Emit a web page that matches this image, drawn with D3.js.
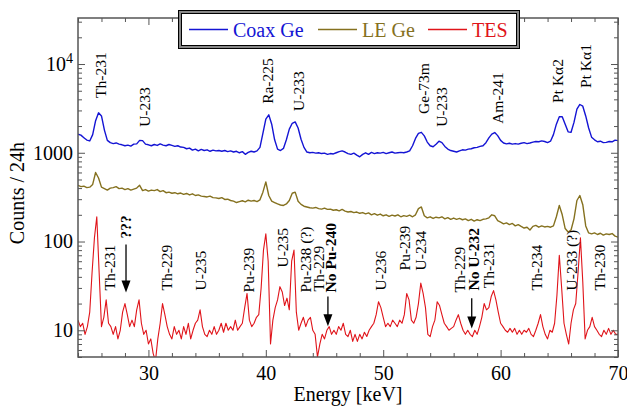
<!DOCTYPE html>
<html>
<head>
<meta charset="utf-8">
<script src="https://cdn.jsdelivr.net/npm/d3@7"></script>
<style>
body { margin: 0; background: #fff; }
svg text { font-family: "Liberation Serif", "Times New Roman", serif; }
</style>
</head>
<body>
<svg id="chart" width="627" height="406"></svg>
<script>
const width = 627;
const height = 406;
const margin = {left: 78, right: 9, top: 18, bottom: 49};

// Coax Ge spectrum, 24 keV onwards in 0.25 keV bins
const coaxStart = 24, coaxStep = 0.25;
const coaxGe = [
  1620, 1580, 1480, 1390,
  1360, 1600, 2300, 2820,
  2600, 1800, 1380, 1300,
  1270, 1290, 1250, 1230,
  1200, 1220, 1190, 1250,
  1260, 1380, 1370, 1250,
  1230, 1200, 1240, 1210,
  1260, 1220, 1200, 1240,
  1210, 1180, 1200, 1160,
  1150, 1110, 1130, 1070,
  1100, 1050, 1090, 1060,
  1080, 1040, 1070, 1050,
  1060, 1040, 1060, 1030,
  1050, 1020, 1040, 1000,
  1030, 960, 1010, 1040,
  1020, 1050, 1150, 1650,
  2400, 2680, 2100, 1400,
  1100, 1060, 1120, 1400,
  1850, 2150, 2230, 1900,
  1420, 1150, 1020, 1000,
  1010, 990, 1000, 980,
  990, 960, 980, 970,
  1000, 1030, 1050, 1020,
  980, 960, 990, 940,
  900, 960, 1000, 960,
  1010, 980, 1000, 990,
  1010, 980, 1000, 1020,
  990, 1000, 1010, 1000,
  1020, 1050, 1200, 1450,
  1650, 1700, 1550, 1320,
  1200, 1170, 1250, 1350,
  1300, 1180, 1100, 1060,
  1040, 1020, 1050, 1080,
  1070, 1100, 1110, 1140,
  1150, 1180, 1200, 1300,
  1470, 1620, 1690, 1560,
  1380, 1290, 1260, 1280,
  1250, 1270, 1250, 1280,
  1300, 1270, 1290, 1320,
  1340, 1330, 1360, 1340,
  1300, 1350, 1600, 2100,
  2550, 2550, 2100, 1720,
  1700, 2200, 3100, 3500,
  3350, 2600, 1900, 1500,
  1400, 1330, 1350, 1300,
  1310, 1340, 1330, 1390,
  1370
];

// LE Ge spectrum, 0.25 keV bins
const leStart = 24, leStep = 0.25;
const leGe = [
  430, 415, 420, 405,
  410, 440, 600, 520,
  410, 395, 380, 400,
  405, 415, 395, 400,
  385, 395, 380, 390,
  400, 430, 375, 385,
  370, 380, 375, 385,
  365, 375, 355, 360,
  350, 355, 345, 352,
  340, 348, 335, 345,
  330, 335, 325, 322,
  318, 325, 312, 310,
  305, 312, 298, 300,
  290, 285, 275, 282,
  288, 280, 292, 285,
  290, 282, 295, 360,
  470, 330, 285, 275,
  265, 258, 255, 265,
  290, 350, 360, 285,
  262, 250, 245, 240,
  238, 242, 235, 232,
  238, 230, 232, 225,
  228, 222, 230, 220,
  215, 218, 212, 215,
  208, 212, 205, 210,
  200, 206, 198, 204,
  195, 200, 192, 198,
  194, 200, 190, 196,
  192, 198, 190, 200,
  235, 245, 195, 185,
  190, 182, 188, 185,
  190, 180, 186, 178,
  184, 178, 182, 176,
  180, 172, 178, 170,
  176, 172, 178, 180,
  185, 200, 195, 172,
  165, 158, 162, 155,
  160, 150, 155, 148,
  142, 145, 135, 148,
  152, 145, 150, 146,
  148, 145, 150, 190,
  255, 200, 140, 128,
  135, 180, 290, 330,
  260, 150, 125, 122,
  125, 120, 124, 118,
  122, 120, 123, 115,
  112
];

// TES spectrum, 0.2 keV bins
const tesStart = 24, tesStep = 0.2;
const tes = [
  13, 11, 12, 9, 11,
  16, 45, 110, 190, 45,
  11, 14, 22, 12, 11,
  9, 11, 8, 10, 16,
  20, 15, 11, 13, 11,
  17, 22, 12, 9, 10,
  7, 8, 5.5, 4.5, 8,
  12, 20, 15, 11, 9,
  8, 11, 9, 10, 8,
  11, 9, 12, 8, 10,
  12, 13, 17, 11, 9,
  8.5, 10, 9, 11, 9,
  10, 12, 9.5, 12, 10,
  11, 10, 13, 10, 11,
  12, 18, 26, 13, 11,
  12, 14, 15, 30, 80,
  122, 60, 7, 13, 18,
  22, 31, 27, 19, 23,
  17, 60, 80, 16, 10,
  12, 14, 11, 13, 14,
  10, 9, 5, 7, 9,
  8, 10, 11, 9, 10,
  9, 11, 10, 12, 9,
  8.5, 10, 7.5, 9, 7.5,
  9, 8, 9.5, 8.5, 10,
  11, 12, 15, 21, 18,
  14, 11, 12, 11, 13,
  12, 11, 13, 12, 15,
  26, 22, 13, 12, 14,
  20, 34, 26, 18, 9,
  8.5, 11, 13, 21, 19,
  15, 12, 11, 10, 10.5,
  11, 13, 15, 12, 10,
  9, 10, 9, 8.5, 10,
  9, 11, 14, 20, 17,
  18, 24, 28, 22, 16,
  12, 11, 10, 9.5, 10.5,
  9.5, 10.5, 9, 10, 9,
  10, 9.5, 10.5, 9, 8.5,
  10, 12, 15, 11, 9,
  8, 10, 9.5, 12, 25,
  70, 30, 12, 9, 7,
  12, 17, 20, 45, 110,
  35, 8, 10, 11, 14,
  11, 10, 9, 8.5, 10,
  9, 10.5, 9, 10, 9,
  9
];

const seriesNames = ["Coax Ge", "LE Ge", "TES"];
const seriesColors = ["#1414d4", "#85711f", "#e0141a"];

// line identifications above the Coax Ge trace
const coaxLabels = ["Th-231", "U-233", "Ra-225", "U-233", "Ge-73m", "U-233", "Am-241", "Pt K\u03b12", "Pt K\u03b11"];
const coaxLabelKeV = [25.96, 29.66, 40.19, 42.78, 53.43, 54.97, 59.74, 64.89, 67.23];
const coaxLabelCounts = [4150, 1960, 3557, 2965, 2742, 1960, 2119, 3648, 5370];

// line identifications above the TES trace
const tesLabels = ["Th-231", "???", "Th-229", "U-235", "Pu-239", "U-235", "Pu-238 (?)", "Th-229", "No Pu-240",
  "U-236", "Pu-239", "U-234", "Th-229", "No U-232", "Th-231", "Th-234", "U-233 (?)", "Th-230"];
const tesLabelKeV = [26.68, 28.09, 31.58, 34.48, 38.57, 41.46, 43.42, 44.49, 45.55,
  49.81, 51.86, 53.22, 56.54, 57.69, 58.97, 63.10, 66.08, 68.43];
const tesLabelCounts = [28.1, 108, 28.1, 28.1, 26.7, 51, 26.7, 27.4, 26.7,
  28.1, 47.2, 47.2, 26.7, 28.1, 29.7, 28.1, 28.1, 28.1];
const boldLabels = ["???", "No Pu-240", "No U-232"];

// arrows: energy, start count, tip count
const arrowKeV = [28.09, 45.29, 57.54];
const arrowFrom = [92.5, 24.1, 22.9];
const arrowTo = [26.7, 11.1, 10.5];

const xMajor = [30, 40, 50, 60, 70];
const xMinor = d3.range(24, 71, 2).filter(d => d % 10 != 0);
const yMajor = [10, 100, 1000, 10000];

var svg = d3.select("#chart");

var x = d3.scaleLinear().domain([24, 70]).range([margin.left, width - margin.right]);
var y = d3.scaleLog().domain([5, 33000]).range([height - margin.bottom, margin.top]);

var yMinor = [];
[1, 10, 100, 1000, 10000].forEach(function (dec) {
    for (var k = 2; k <= 9; k++) {
        var v = k * dec;
        if (v >= 5 && v <= 33000) yMinor.push(v);
    }
});

svg.append("clipPath").attr("id", "plot-clip")
    .append("rect")
    .attr("x", margin.left).attr("y", margin.top)
    .attr("width", width - margin.left - margin.right)
    .attr("height", height - margin.top - margin.bottom);

var line = d3.line()
    .x(d => x(d[0]))
    .y(d => y(d[1]));

function toPoints(values, start, step) {
    return values.map((v, i) => [start + i * step, v]);
}

var traces = [
    toPoints(coaxGe, coaxStart, coaxStep),
    toPoints(leGe, leStart, leStep),
    toPoints(tes, tesStart, tesStep)
];
var traceWidths = [1.4, 1.4, 1.1];

var plot = svg.append("g").attr("clip-path", "url(#plot-clip)");
traces.forEach(function (pts, i) {
    plot.append("path")
        .datum(pts)
        .attr("fill", "none")
        .attr("stroke", seriesColors[i])
        .attr("stroke-width", traceWidths[i])
        .attr("stroke-linejoin", "round")
        .attr("d", line);
});

// axes, ticks pointing inwards on all four sides
var axisColor = "#555";
function styleAxis(g) {
    g.select(".domain").remove();
    g.selectAll(".tick line").attr("stroke", axisColor).attr("stroke-width", 1);
    g.attr("font-family", "Liberation Serif, Times New Roman, serif").attr("font-size", 20);
    g.selectAll(".tick text").attr("fill", "#000");
}

var xb = height - margin.bottom;
svg.append("g").attr("transform", "translate(0," + xb + ")")
    .call(d3.axisBottom(x).tickValues(xMajor).tickSizeInner(-7).tickSizeOuter(0).tickPadding(9).tickFormat(d3.format("d")))
    .call(styleAxis);
svg.append("g").attr("transform", "translate(0," + xb + ")")
    .call(d3.axisBottom(x).tickValues(xMinor).tickSizeInner(-4).tickSizeOuter(0).tickFormat(""))
    .call(styleAxis);
svg.append("g").attr("transform", "translate(0," + margin.top + ")")
    .call(d3.axisTop(x).tickValues(xMajor).tickSizeInner(-7).tickSizeOuter(0).tickFormat(""))
    .call(styleAxis);
svg.append("g").attr("transform", "translate(0," + margin.top + ")")
    .call(d3.axisTop(x).tickValues(xMinor).tickSizeInner(-4).tickSizeOuter(0).tickFormat(""))
    .call(styleAxis);

var left = svg.append("g").attr("transform", "translate(" + margin.left + ",0)")
    .call(d3.axisLeft(y).tickValues(yMajor).tickSizeInner(-7).tickSizeOuter(0).tickPadding(5).tickFormat(d3.format("d")))
    .call(styleAxis);
svg.append("g").attr("transform", "translate(" + margin.left + ",0)")
    .call(d3.axisLeft(y).tickValues(yMinor).tickSizeInner(-4).tickSizeOuter(0).tickFormat(""))
    .call(styleAxis);
var xr = width - margin.right;
svg.append("g").attr("transform", "translate(" + xr + ",0)")
    .call(d3.axisRight(y).tickValues(yMajor).tickSizeInner(-7).tickSizeOuter(0).tickFormat(""))
    .call(styleAxis);
svg.append("g").attr("transform", "translate(" + xr + ",0)")
    .call(d3.axisRight(y).tickValues(yMinor).tickSizeInner(-4).tickSizeOuter(0).tickFormat(""))
    .call(styleAxis);

// 10^4 with a raised exponent
left.selectAll(".tick text").filter(d => d == 10000)
    .text(null)
    .call(function (t) {
        t.append("tspan").text("10");
        t.append("tspan").attr("dy", "-8").attr("font-size", 14).text("4");
    });

svg.append("rect")
    .attr("x", margin.left).attr("y", margin.top)
    .attr("width", width - margin.left - margin.right)
    .attr("height", height - margin.top - margin.bottom)
    .attr("fill", "none")
    .attr("stroke", axisColor)
    .attr("stroke-width", 1.5);

// axis titles
svg.append("text")
    .attr("transform", "translate(24,193) rotate(-90)")
    .attr("text-anchor", "middle")
    .attr("font-size", 20)
    .text("Counts / 24h");

svg.append("text")
    .attr("x", (margin.left + width - margin.right) / 2)
    .attr("y", 401)
    .attr("text-anchor", "middle")
    .attr("font-size", 20)
    .text("Energy [keV]");

// peak labels
function addLabels(names, keV, counts) {
    names.forEach(function (name, i) {
        svg.append("text")
            .attr("transform", "translate(" + x(keV[i]) + "," + y(counts[i]) + ") rotate(-90)")
            .attr("dy", "0.34em")
            .attr("font-size", 15.5)
            .attr("font-weight", boldLabels.includes(name) ? "bold" : "normal")
            .text(name);
    });
}
addLabels(coaxLabels, coaxLabelKeV, coaxLabelCounts);
addLabels(tesLabels, tesLabelKeV, tesLabelCounts);

arrowKeV.forEach(function (e, i) {
    var ax = x(e), y0 = y(arrowFrom[i]), y1 = y(arrowTo[i]);
    svg.append("line")
        .attr("x1", ax).attr("x2", ax)
        .attr("y1", y0).attr("y2", y1 - 8)
        .attr("stroke", "#000").attr("stroke-width", 1.3);
    svg.append("path")
        .attr("d", "M" + (ax - 4.5) + "," + (y1 - 12) + "L" + (ax + 4.5) + "," + (y1 - 12) + "L" + ax + "," + y1 + "Z")
        .attr("fill", "#000");
});

// legend box
var lg = svg.append("g");
lg.append("rect").attr("x", 178.5).attr("y", 10.5).attr("width", 341).attr("height", 38)
    .attr("fill", "#888").attr("stroke", "#000").attr("stroke-width", 1);
lg.append("rect").attr("x", 181.5).attr("y", 13.5).attr("width", 335).attr("height", 32)
    .attr("fill", "#fff").attr("stroke", "#000").attr("stroke-width", 1);

var legendX = [189, 318, 428];
seriesNames.forEach(function (name, i) {
    lg.append("line")
        .attr("x1", legendX[i]).attr("x2", legendX[i] + 39)
        .attr("y1", 29.5).attr("y2", 29.5)
        .attr("stroke", seriesColors[i]).attr("stroke-width", 1.4);
    lg.append("text")
        .attr("x", legendX[i] + 44).attr("y", 37)
        .attr("font-size", 20)
        .attr("fill", seriesColors[i])
        .text(name);
});
</script>
</body>
</html>
